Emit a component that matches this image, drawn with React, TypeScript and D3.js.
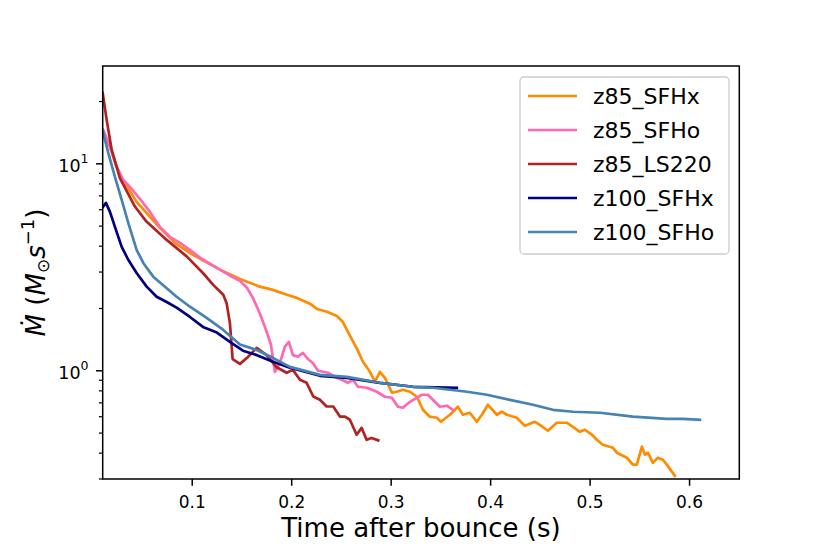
import React from "react";
import * as d3 from "d3";

// ---- data (time after bounce [s], mass accretion rate [Msun/s]) ----
const z85_SFHx: [number, number][] = [
  [0.0103, 14.6], [0.0173, 12.08], [0.024, 9.67], [0.0307, 8.28], [0.0441, 6.55],
  [0.0575, 5.55], [0.0675, 4.91], [0.0826, 4.15], [0.1007, 3.63], [0.1279, 3.08],
  [0.148, 2.78], [0.168, 2.55], [0.1811, 2.46], [0.1952, 2.33], [0.2053, 2.25],
  [0.2184, 2.11], [0.2254, 1.99], [0.2355, 1.93], [0.2455, 1.84], [0.2515, 1.72],
  [0.2585, 1.48], [0.2656, 1.28], [0.2716, 1.105], [0.2787, 0.989], [0.2837, 0.885],
  [0.2887, 0.989], [0.2937, 0.925], [0.3008, 0.783], [0.3058, 0.792], [0.3118, 0.81],
  [0.3189, 0.792], [0.3259, 0.749], [0.3319, 0.648], [0.3389, 0.6], [0.346, 0.593],
  [0.35, 0.567], [0.3591, 0.613], [0.3671, 0.67], [0.3721, 0.613], [0.3791, 0.627],
  [0.3862, 0.567], [0.3912, 0.613], [0.3973, 0.685], [0.4063, 0.613], [0.4113, 0.634],
  [0.4164, 0.613], [0.4263, 0.593], [0.4344, 0.542], [0.4445, 0.567], [0.4495, 0.548],
  [0.4575, 0.513], [0.4666, 0.561], [0.4766, 0.561], [0.4827, 0.536], [0.4897, 0.507],
  [0.4947, 0.519], [0.5018, 0.491], [0.5068, 0.464], [0.5128, 0.439], [0.5229, 0.425],
  [0.5269, 0.402], [0.537, 0.38], [0.543, 0.352], [0.547, 0.352], [0.5521, 0.43],
  [0.5551, 0.393], [0.5581, 0.402], [0.5631, 0.359], [0.5681, 0.38], [0.5731, 0.372],
  [0.5771, 0.352], [0.5852, 0.311],
];

const z85_SFHo: [number, number][] = [
  [0.0103, 14.6], [0.0173, 12.08], [0.024, 9.67], [0.0307, 8.37], [0.0374, 7.74],
  [0.0474, 6.78], [0.0575, 5.86], [0.0675, 4.96], [0.0776, 4.44], [0.0877, 4.15],
  [0.0977, 3.84], [0.1078, 3.52], [0.1178, 3.29], [0.1279, 3.08], [0.138, 2.88],
  [0.148, 2.72], [0.155, 2.52], [0.161, 2.25], [0.168, 1.89], [0.1741, 1.58],
  [0.1791, 1.34], [0.1831, 0.989], [0.1881, 1.09], [0.1932, 1.31], [0.1972, 1.38],
  [0.2012, 1.19], [0.2063, 1.17], [0.2113, 1.22], [0.2163, 1.14], [0.2213, 1.09],
  [0.2264, 1.0], [0.2364, 0.978], [0.2455, 0.925], [0.2505, 0.905], [0.2565, 0.875],
  [0.2616, 0.905], [0.2666, 0.837], [0.2756, 0.828], [0.2857, 0.792], [0.2937, 0.749],
  [0.3008, 0.741], [0.3068, 0.67], [0.3118, 0.663], [0.3189, 0.708], [0.3259, 0.741],
  [0.3309, 0.766], [0.3369, 0.766], [0.3419, 0.724], [0.349, 0.67], [0.356, 0.678],
  [0.3621, 0.648],
];

const z85_LS220: [number, number][] = [
  [0.01, 22.0], [0.014, 16.3], [0.019, 11.7], [0.0273, 8.53], [0.0424, 6.22],
  [0.054, 5.26], [0.0743, 4.29], [0.0944, 3.57], [0.111, 2.96], [0.1211, 2.6],
  [0.1312, 2.33], [0.1346, 2.12], [0.1379, 1.7], [0.1406, 1.14], [0.148, 1.08],
  [0.1563, 1.17], [0.1648, 1.29], [0.1748, 1.19], [0.1849, 1.04], [0.1949, 0.978],
  [0.2012, 1.01], [0.2083, 0.905], [0.215, 0.875], [0.2217, 0.751], [0.2284, 0.724],
  [0.2351, 0.672], [0.2418, 0.672], [0.2485, 0.601], [0.2535, 0.601], [0.2585, 0.58],
  [0.2653, 0.491], [0.2703, 0.53], [0.2753, 0.464], [0.2804, 0.474], [0.287, 0.461],
];

const z100_SFHx: [number, number][] = [
  [0.0103, 6.2], [0.0133, 6.48], [0.0173, 5.86], [0.0223, 4.96], [0.0291, 3.97],
  [0.0357, 3.44], [0.0441, 2.97], [0.0542, 2.55], [0.0642, 2.28], [0.0743, 2.15],
  [0.0843, 2.02], [0.0977, 1.82], [0.1108, 1.63], [0.1248, 1.53], [0.1379, 1.38],
  [0.151, 1.25], [0.1651, 1.19], [0.1811, 1.105], [0.1982, 1.034], [0.2284, 0.946],
  [0.2555, 0.925], [0.2887, 0.875], [0.3219, 0.837], [0.366, 0.828],
];

const z100_SFHo: [number, number][] = [
  [0.0103, 14.28], [0.0156, 11.3], [0.0223, 8.65], [0.0291, 6.7], [0.0357, 5.19],
  [0.0441, 3.84], [0.0508, 3.32], [0.0608, 2.85], [0.0726, 2.55], [0.0843, 2.28],
  [0.0977, 2.04], [0.1145, 1.8], [0.1309, 1.58], [0.148, 1.34], [0.1648, 1.26],
  [0.1811, 1.155], [0.1982, 1.045], [0.2284, 0.956], [0.2555, 0.935], [0.2887, 0.875],
  [0.3219, 0.837], [0.342, 0.828], [0.3762, 0.792], [0.3963, 0.766], [0.4194, 0.724],
  [0.4425, 0.685], [0.4626, 0.648], [0.4827, 0.634], [0.5099, 0.627], [0.543, 0.6],
  [0.5772, 0.586], [0.5933, 0.586], [0.6104, 0.58],
];

const seriesNames = ["z85_SFHx", "z85_SFHo", "z85_LS220", "z100_SFHx", "z100_SFHo"];
const seriesData = [z85_SFHx, z85_SFHo, z85_LS220, z100_SFHx, z100_SFHo];
const seriesColors = ["#ff8c00", "#ff69b4", "#b22222", "#000080", "#4682b4"];

const xTicks = [0.1, 0.2, 0.3, 0.4, 0.5, 0.6];
const xTickLabels = ["0.1", "0.2", "0.3", "0.4", "0.5", "0.6"];
const yMajor = [1, 10];
const yMajorExp = ["0", "1"];
const yMinor = [0.3, 0.4, 0.5, 0.6, 0.7, 0.8, 0.9, 2, 3, 4, 5, 6, 7, 8, 9, 20];

const W = 822;
const H = 548;
const L = 102.7, R = 739.3, T = 66, B = 479;
const FONT = "DejaVu Sans, sans-serif";

export default function App() {
  const x = d3.scaleLinear().domain([0.01, 0.65]).range([L, R]);
  const y = d3.scaleLog().domain([0.3, 29.7]).range([B, T]);
  const line = d3
    .line<[number, number]>()
    .x((d) => x(d[0]))
    .y((d) => y(d[1]));

  const legX = 520, legY = 77, legW = 209, legH = 177;
  const rowY0 = 96, rowDy = 34;

  return (
    <svg
      width={W}
      height={H}
      style={{ position: "absolute", left: 0, top: 0, background: "#fff" }}
      fontFamily={FONT}
    >
      <rect x={0} y={0} width={W} height={H} fill="#fff" />
      <defs>
        <clipPath id="plotclip">
          <rect x={L} y={T} width={R - L} height={B - T} />
        </clipPath>
      </defs>
      <g clipPath="url(#plotclip)">
        {seriesData.map((d, i) => (
          <path
            key={seriesNames[i]}
            d={line(d) || ""}
            fill="none"
            stroke={seriesColors[i]}
            strokeWidth={2.7}
            strokeLinejoin="round"
            strokeLinecap="square"
          />
        ))}
      </g>
      {/* frame */}
      <rect x={L} y={T} width={R - L} height={B - T} fill="none" stroke="#000" strokeWidth={1.5} />
      {/* x ticks */}
      {xTicks.map((t, i) => (
        <g key={"xt" + i}>
          <line x1={x(t)} x2={x(t)} y1={B} y2={B + 6.7} stroke="#000" strokeWidth={1.5} />
          <text x={x(t)} y={508} textAnchor="middle" fontSize={17} fill="#000">
            {xTickLabels[i]}
          </text>
        </g>
      ))}
      {/* y major ticks */}
      {yMajor.map((v, i) => (
        <g key={"ym" + i}>
          <line x1={L - 6.7} x2={L} y1={y(v)} y2={y(v)} stroke="#000" strokeWidth={1.5} />
          <text x={88.5} y={y(v) + 8} textAnchor="end" fontSize={17.5} fill="#000">
            10
            <tspan fontSize={12.5} dy={-8.5}>
              {yMajorExp[i]}
            </tspan>
          </text>
        </g>
      ))}
      {/* y minor ticks */}
      {yMinor.map((v, i) => (
        <line key={"yn" + i} x1={L - 3.8} x2={L} y1={y(v)} y2={y(v)} stroke="#000" strokeWidth={1.2} />
      ))}
      {/* x label */}
      <text x={(L + R) / 2} y={537} textAnchor="middle" fontSize={26} fill="#000">
        Time after bounce (s)
      </text>
      {/* y label */}
      <text
        transform={`translate(45, ${(T + B) / 2}) rotate(-90)`}
        textAnchor="middle"
        fontSize={26}
        fill="#000"
      >
        <tspan fontStyle="italic">Ṁ</tspan>
        <tspan> (</tspan>
        <tspan fontStyle="italic">M</tspan>
        <tspan fontSize={17} dy={4}>⊙</tspan>
        <tspan fontStyle="italic" dy={-4}>s</tspan>
        <tspan fontSize={18} dy={-11}>−1</tspan>
        <tspan dy={11}>)</tspan>
      </text>
      {/* legend */}
      <rect
        x={legX}
        y={legY}
        width={legW}
        height={legH}
        rx={4}
        ry={4}
        fill="#fff"
        fillOpacity={0.8}
        stroke="#cccccc"
        strokeWidth={1.3}
      />
      {seriesNames.map((n, i) => (
        <g key={"lg" + n}>
          <line
            x1={528}
            x2={577}
            y1={rowY0 + i * rowDy}
            y2={rowY0 + i * rowDy}
            stroke={seriesColors[i]}
            strokeWidth={2.7}
          />
          <text x={593} y={rowY0 + i * rowDy + 8} fontSize={22} fill="#000">
            {n}
          </text>
        </g>
      ))}
    </svg>
  );
}
